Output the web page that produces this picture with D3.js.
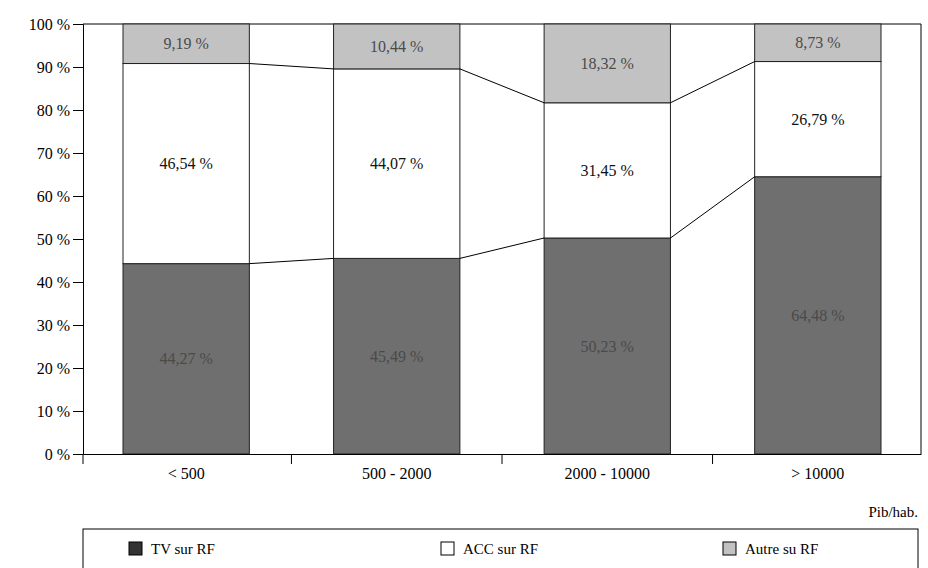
<!DOCTYPE html>
<html>
<head>
<meta charset="utf-8">
<script src="https://cdn.jsdelivr.net/npm/d3@7"></script>
<style>
  body { margin: 0; background: #fff; }
  svg, svg text { font-family: "Liberation Serif", "DejaVu Serif", serif; }
</style>
</head>
<body>
<script>
// data
var categories = ["< 500", "500 - 2000", "2000 - 10000", "> 10000"];
var tvSurRF = [44.27, 45.49, 50.23, 64.48];
var accSurRF = [46.54, 44.07, 31.45, 26.79];
var autreSurRF = [9.19, 10.44, 18.32, 8.73];
var yTicks = [0, 10, 20, 30, 40, 50, 60, 70, 80, 90, 100];
var seriesNames = ["TV sur RF", "ACC sur RF", "Autre su RF"];

var W = 928, H = 568;
var margin = {top: 24, right: 7, bottom: 114, left: 83};
var width = W - margin.left - margin.right,
    height = H - margin.top - margin.bottom;
var serif = "Liberation Serif";

var svg = d3.select("body").append("svg")
    .attr("width", W)
    .attr("height", H)
    .attr("font-family", serif);

var g = svg.append("g")
    .attr("transform", "translate(" + margin.left + "," + margin.top + ")");

var x = d3.scaleBand().domain(categories).range([0, width]).paddingInner(0.4).paddingOuter(0.19),
    y = d3.scaleLinear().domain([0, 100]).range([height, 0]);

var colors = ["#6f6f6f", "#ffffff", "#c2c2c2"];
var textColors = ["#4a4a4a", "#111", "#4a4a4a"];

var data = categories.map(function(c, i) {
  return {cat: c, tv: tvSurRF[i], acc: accSurRF[i], autre: autreSurRF[i]};
});
var stack = d3.stack().keys(["tv", "acc", "autre"])(data);

// frame: top and right
g.append("line").attr("x1", 0).attr("x2", width).attr("y1", 0).attr("y2", 0)
    .attr("stroke", "#000");
g.append("line").attr("x1", width).attr("x2", width).attr("y1", 0).attr("y2", height)
    .attr("stroke", "#000");

// bars
stack.forEach(function(s, k) {
  g.selectAll(".seg" + k)
    .data(s)
    .enter().append("rect")
      .attr("x", function(d) { return x(d.data.cat); })
      .attr("y", function(d) { return y(d[1]); })
      .attr("width", x.bandwidth())
      .attr("height", function(d) { return y(d[0]) - y(d[1]); })
      .attr("fill", colors[k])
      .attr("stroke", "#222")
      .attr("stroke-width", 1);

  g.selectAll(".lab" + k)
    .data(s)
    .enter().append("text")
      .attr("x", function(d) { return x(d.data.cat) + x.bandwidth() / 2; })
      .attr("y", function(d) { return (y(d[0]) + y(d[1])) / 2; })
      .attr("dy", "0.35em")
      .attr("text-anchor", "middle")
      .attr("fill", textColors[k])
      .attr("font-family", serif)
      .style("font-size", "16px")
      .text(function(d) { return (d[1] - d[0]).toFixed(2).replace(".", ",") + " %"; });
});

// connector lines between bars
[0, 1].forEach(function(k) {
  var s = stack[k];
  for (var i = 0; i < s.length - 1; i++) {
    g.append("line")
      .attr("x1", x(categories[i]) + x.bandwidth())
      .attr("y1", y(s[i][1]))
      .attr("x2", x(categories[i + 1]))
      .attr("y2", y(s[i + 1][1]))
      .attr("stroke", "#000")
      .attr("stroke-width", 1);
  }
});

// y axis
var yAxis = g.append("g")
    .call(d3.axisLeft(y).tickValues(yTicks).tickSize(10).tickFormat(function(d) { return d + " %"; }));
yAxis.attr("font-family", serif);
yAxis.select(".domain").attr("stroke", "#000");
yAxis.selectAll("text").style("font-size", "16px").attr("fill", "#000").attr("x", -13);

// x axis
var xAxis = g.append("g")
    .attr("transform", "translate(0," + height + ")")
    .call(d3.axisBottom(x).tickSize(0).tickSizeOuter(0));
xAxis.attr("font-family", serif);
xAxis.selectAll("text").style("font-size", "16px").attr("fill", "#000").attr("dy", "1.4em");
xAxis.selectAll(".tick line").remove();
var bounds = [0].concat(categories.map(function(c) { return x(c) + x.bandwidth() + x.step() * x.paddingInner() / 2; }));
xAxis.selectAll(".bnd")
  .data(bounds.slice(0, bounds.length - 1))
  .enter().append("line")
    .attr("x1", function(d) { return d; })
    .attr("x2", function(d) { return d; })
    .attr("y1", 0).attr("y2", 10)
    .attr("stroke", "#000");

g.append("text")
    .attr("x", width - 3)
    .attr("y", height + 63)
    .attr("text-anchor", "end")
    .attr("font-family", serif)
    .style("font-size", "15px")
    .text("Pib/hab.");

// legend
var leg = svg.append("g").attr("font-family", serif);
leg.append("rect")
    .attr("x", margin.left).attr("y", 529)
    .attr("width", width - 3).attr("height", 45)
    .attr("fill", "#fff").attr("stroke", "#000");
var legX = [129, 441, 723];
seriesNames.forEach(function(n, k) {
  leg.append("rect")
    .attr("x", legX[k]).attr("y", 542)
    .attr("width", 13).attr("height", 13)
    .attr("fill", k === 0 ? "#333" : colors[k])
    .attr("stroke", "#000");
  leg.append("text")
    .attr("x", legX[k] + 22).attr("y", 549)
    .attr("dy", "0.35em")
    .attr("font-family", serif)
    .style("font-size", "15px")
    .text(n);
});
</script>
</body>
</html>
